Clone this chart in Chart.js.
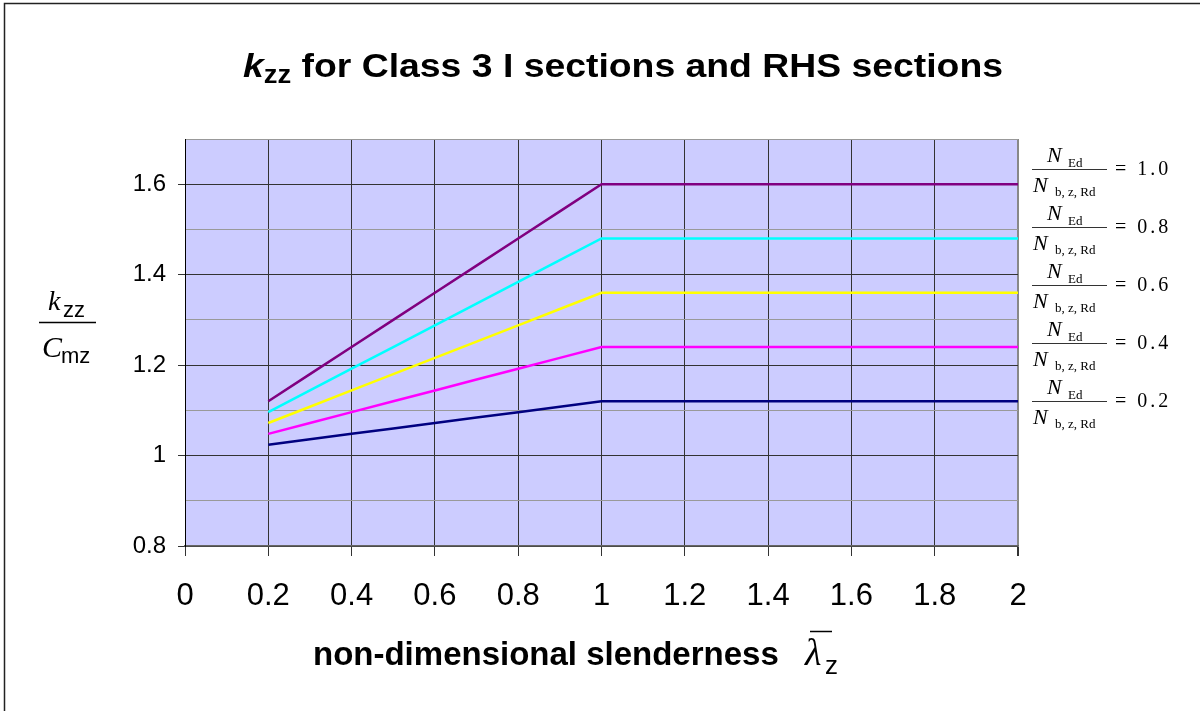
<!DOCTYPE html>
<html lang="en">
<head>
    <meta charset="UTF-8">
    <title>kzz for Class 3 I sections and RHS sections</title>
    <script src="https://cdn.jsdelivr.net/npm/chart.js"></script>
    <style>
        html, body { margin: 0; padding: 0; background: #fff; }
        canvas { display: block; }
    </style>
</head>
<body>
    <canvas id="kzzChart" width="1200" height="711"></canvas>

    <script>
        // slenderness values where points were read
        const slenderness = [0.2, 0.3, 0.4, 0.5, 0.6, 0.7, 0.8, 0.9, 1.0, 2.0];

        // kzz / Cmz for each N_Ed / N_b,z,Rd ratio
        const kzzRatio10 = [1.12, 1.18, 1.24, 1.30, 1.36, 1.42, 1.48, 1.54, 1.60, 1.60];
        const kzzRatio08 = [1.096, 1.144, 1.192, 1.240, 1.288, 1.336, 1.384, 1.432, 1.48, 1.48];
        const kzzRatio06 = [1.072, 1.108, 1.144, 1.180, 1.216, 1.252, 1.288, 1.324, 1.36, 1.36];
        const kzzRatio04 = [1.048, 1.072, 1.096, 1.120, 1.144, 1.168, 1.192, 1.216, 1.24, 1.24];
        const kzzRatio02 = [1.024, 1.036, 1.048, 1.060, 1.072, 1.084, 1.096, 1.108, 1.12, 1.12];

        const ratioLabels = ['1.0', '0.8', '0.6', '0.4', '0.2'];
        const seriesColors = ['#800080', '#00FFFF', '#FFFF00', '#FF00FF', '#000080'];
        const seriesValues = [kzzRatio10, kzzRatio08, kzzRatio06, kzzRatio04, kzzRatio02];

        const SANS = '"Liberation Sans", Arial, sans-serif';
        const SERIF = '"Liberation Serif", "Times New Roman", serif';

        function toPoints(values) {
            return slenderness.map((x, i) => ({ x: x, y: values[i] }));
        }

        function isMajor(v) {
            return Math.round(v * 10) % 2 === 0;
        }

        // plot background + outer frame
        const backgroundPlugin = {
            id: 'background',
            beforeDraw(chart) {
                const ctx = chart.ctx;
                const a = chart.chartArea;
                ctx.save();
                ctx.fillStyle = '#ffffff';
                ctx.fillRect(0, 0, chart.width, chart.height);
                ctx.strokeStyle = '#222';
                ctx.lineWidth = 1.5;
                ctx.strokeRect(4.5, 3.5, chart.width + 20, chart.height + 20);
                ctx.fillStyle = '#CCCCFF';
                ctx.fillRect(a.left, a.top, a.right - a.left, a.bottom - a.top);
                ctx.restore();
            }
        };

        // titles and fraction labels (need sub/superscripts)
        const textPlugin = {
            id: 'texts',
            afterDraw(chart) {
                const ctx = chart.ctx;
                ctx.save();
                ctx.fillStyle = '#000';
                ctx.strokeStyle = '#000';
                ctx.textBaseline = 'alphabetic';
                ctx.textAlign = 'left';

                // main title, stretched a little like the original
                const parts = [
                    { t: 'k', f: 'italic bold 34px ' + SANS, dy: 0 },
                    { t: 'zz', f: 'bold 25px ' + SANS, dy: 6 },
                    { t: ' for Class 3 I sections and RHS sections', f: 'bold 34px ' + SANS, dy: 0 }
                ];
                let w = 0;
                parts.forEach(p => { ctx.font = p.f; w += ctx.measureText(p.t).width; });
                const sx = 760 / w;
                ctx.save();
                ctx.translate(243, 77);
                ctx.scale(sx, 1);
                let cx = 0;
                parts.forEach(p => {
                    ctx.font = p.f;
                    ctx.fillText(p.t, cx, p.dy);
                    cx += ctx.measureText(p.t).width;
                });
                ctx.restore();

                // y axis title kzz / Cmz
                ctx.font = 'italic 28px ' + SERIF;
                ctx.fillText('k', 48, 310);
                ctx.font = '22px ' + SANS;
                ctx.fillText('zz', 63, 317);
                ctx.lineWidth = 1.5;
                ctx.beginPath();
                ctx.moveTo(39, 322.5);
                ctx.lineTo(96, 322.5);
                ctx.stroke();
                ctx.font = 'italic 30px ' + SERIF;
                ctx.fillText('C', 42, 357);
                ctx.font = '22px ' + SANS;
                ctx.fillText('mz', 61, 363);

                // x axis title
                ctx.font = 'bold 33px ' + SANS;
                ctx.fillText('non-dimensional slenderness', 313, 665);
                ctx.font = 'italic 38px ' + SERIF;
                ctx.fillText('\u03BB', 805, 665);
                ctx.beginPath();
                ctx.moveTo(810, 631.5);
                ctx.lineTo(832, 631.5);
                ctx.stroke();
                ctx.font = '26px ' + SANS;
                ctx.fillText('z', 825, 674);

                // right hand labels N_Ed / N_b,z,Rd = ...
                const yScale = chart.scales.y;
                const ys = [];
                for (let i = seriesValues.length - 1; i >= 0; i--) {
                    const vals = seriesValues[i];
                    let y = yScale.getPixelForValue(vals[vals.length - 1]);
                    if (i < seriesValues.length - 1) y = Math.min(y, ys[i + 1] - 58);
                    ys[i] = y;
                }
                ratioLabels.forEach((lab, i) => {
                    const Y = Math.round(ys[i]) + 0.5;
                    ctx.font = 'italic 22px ' + SERIF;
                    ctx.fillText('N', 1047, Y - 8);
                    ctx.fillText('N', 1033, Y + 22);
                    ctx.font = '13px ' + SERIF;
                    ctx.fillText('Ed', 1068, Y - 3);
                    ctx.fillText('b, z, Rd', 1055, Y + 26);
                    ctx.strokeStyle = '#333';
                    ctx.lineWidth = 1;
                    ctx.beginPath();
                    ctx.moveTo(1032, Y);
                    ctx.lineTo(1107, Y);
                    ctx.stroke();
                    ctx.font = '20px ' + SERIF;
                    ctx.letterSpacing = '3px';
                    ctx.fillText('= ' + lab, 1115, Y + 5);
                    ctx.letterSpacing = '0px';
                });
                ctx.restore();
            }
        };

        const ctx = document.getElementById('kzzChart').getContext('2d');
        const kzzChart = new Chart(ctx, {
            type: 'line',
            data: {
                datasets: seriesValues.map((vals, i) => ({
                    label: 'N_Ed / N_b,z,Rd = ' + ratioLabels[i],
                    data: toPoints(vals),
                    borderColor: seriesColors[i],
                    backgroundColor: seriesColors[i],
                    borderWidth: 2.5,
                    pointRadius: 0,
                    tension: 0,
                    fill: false
                }))
            },
            options: {
                responsive: false,
                animation: false,
                devicePixelRatio: 1,
                layout: { padding: { left: 0, right: 182, top: 139, bottom: 0 } },
                plugins: {
                    legend: { display: false },
                    title: { display: false },
                    tooltip: { enabled: false }
                },
                scales: {
                    x: {
                        type: 'linear',
                        min: 0,
                        max: 2,
                        afterFit(scale) { scale.height = 165; },
                        ticks: {
                            stepSize: 0.2,
                            color: '#000',
                            font: { family: SANS, size: 31 },
                            padding: 22,
                            maxRotation: 0,
                            callback: v => String(Math.round(v * 10) / 10)
                        },
                        grid: {
                            color: c => (Math.round(c.tick.value * 10) === 20 ? '#888' : '#333'),
                            lineWidth: c => (Math.round(c.tick.value * 10) === 20 ? 2 : 1),
                            tickColor: '#333',
                            tickLength: 10
                        },
                        border: { color: '#666', width: 1.5 }
                    },
                    y: {
                        min: 0.8,
                        max: 1.7,
                        afterFit(scale) { scale.width = 185; },
                        ticks: {
                            stepSize: 0.1,
                            color: '#000',
                            font: { family: SANS, size: 24 },
                            padding: 12,
                            callback: v => (isMajor(v) ? String(Math.round(v * 10) / 10) : '')
                        },
                        grid: {
                            color: c => (isMajor(c.tick.value) ? '#333' : '#999'),
                            lineWidth: 1,
                            tickColor: c => (isMajor(c.tick.value) ? '#333' : 'rgba(0,0,0,0)'),
                            tickLength: 7
                        },
                        border: { color: '#000', width: 1 }
                    }
                }
            },
            plugins: [backgroundPlugin, textPlugin]
        });
    </script>
</body>
</html>
